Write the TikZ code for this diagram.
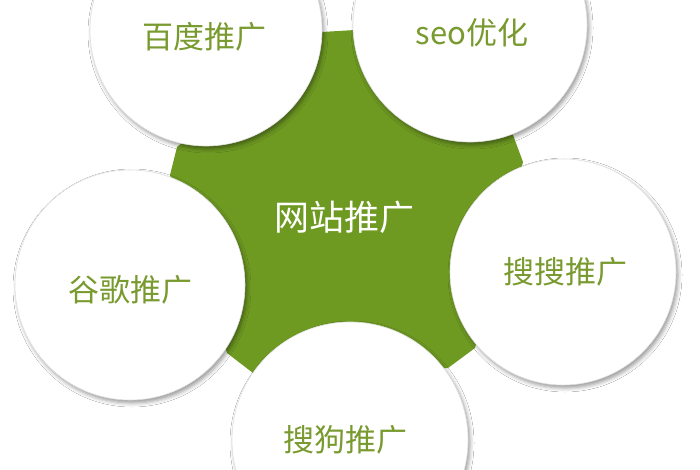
\documentclass[tikz,border=0pt]{standalone}
\usepackage{fontspec}
\newfontfamily\cjk{Noto Sans CJK SC}
\usetikzlibrary{shadows.blur}
\definecolor{stargreen}{HTML}{6E9A22}
\definecolor{txtgreen}{HTML}{789A2E}
\tikzset{
  bubble/.style={circle, fill=white, draw=black!12, line width=0.6pt,
    inner sep=0pt, minimum size=#1,
    blur shadow={shadow xshift=2pt, shadow yshift=-3pt, shadow blur radius=4pt, shadow opacity=40}},
  bubbletext/.style={text=txtgreen, font=\cjk\fontsize{31}{31}\selectfont, inner sep=0pt},
  hubtext/.style={text=white, font=\cjk\fontsize{35}{35}\selectfont, inner sep=0pt}
}
\begin{document}
\begin{tikzpicture}[x=1pt, y=-1pt]
\useasboundingbox (0,0) rectangle (700,470);
\fill[white] (0,0) rectangle (700,470);
% green star
\fill[stargreen] (322,32) -- (355,30) -- (513,135) -- (523,162) -- (475,348) -- (448,368)
  -- (253,373) -- (227,353) -- (170,175) -- (177,147) -- cycle;
% bubbles
\node[bubble=232pt] (baidu) at (206,30) {};
\node[bubble=234pt] (seo) at (470,25) {};
\node[bubble=230pt] (google) at (130,285) {};
\node[bubble=226pt] (soso) at (563,272) {};
\node[bubble=236pt] (sogou) at (350,440) {};
% labels
\node[bubbletext] (tbaidu) at (204,37) {百度推广};
\node[bubbletext] (tseo) at (472,33) {seo优化};
\node[bubbletext] (tgoogle) at (130,290) {谷歌推广};
\node[bubbletext] (tsoso) at (565,272) {搜搜推广};
\node[bubbletext] (tsogou) at (345,440) {搜狗推广};
\node[hubtext] (hub) at (344,217) {网站推广};
\end{tikzpicture}
\end{document}
